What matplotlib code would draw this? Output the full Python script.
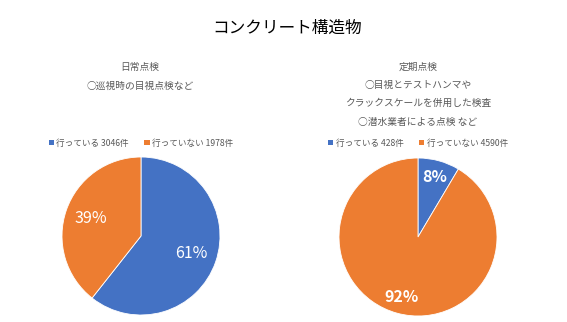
import matplotlib.pyplot as plt
from matplotlib.patches import Patch

plt.rcParams['font.family'] = ['Noto Sans CJK JP', 'DejaVu Sans']

# 件数
labels = ['行っている', '行っていない']
daily_counts = [3046, 1978]
periodic_counts = [428, 4590]
daily_pct = [61, 39]
periodic_pct = [8, 92]
colors = ['#4472C4', '#ED7D31']
gray = '#595959'

W, H = 567, 322
fig = plt.figure(figsize=(W / 100, H / 100), dpi=100)
fig.patch.set_facecolor('white')

def px(x, y):
    return x / W, 1 - y / H

def pie_axes(cx, cy, r):
    return fig.add_axes([(cx - r) / W, 1 - (cy + r) / H, 2 * r / W, 2 * r / H])

fig.text(*px(287, 28), 'コンクリート構造物', ha='center', va='center',
         fontsize=12, color='black')

# 日常点検
for y, s in [(67, '日常点検'), (86, '○巡視時の目視点検など')]:
    fig.text(*px(140, y), s, ha='center', va='center', fontsize=7, color=gray)

# 定期点検
for y, s in [(67, '定期点検'), (85, '○目視とテストハンマや'),
             (103, 'クラックスケールを併用した検査'), (122, '○潜水業者による点検 など')]:
    fig.text(*px(418, y), s, ha='center', va='center', fontsize=7, color=gray)

def draw(cx, cy, counts, pct, pctdist, weight):
    ax = pie_axes(cx, cy, 79)
    wedges, texts = ax.pie(counts, colors=colors, startangle=90, counterclock=False,
                           wedgeprops=dict(edgecolor='white', linewidth=0.6),
                           labels=[f'{p}%' for p in pct], labeldistance=pctdist,
                           textprops=dict(color='white', fontsize=11.5, weight=weight))
    for t in texts:
        t.set_ha('center')
        t.set_va('center')
    ax.set_xlim(-1, 1)
    ax.set_ylim(-1, 1)
    ax.set_aspect('equal')
    handles = [Patch(facecolor=c) for c in colors]
    names = [f'{l} {n}件' for l, n in zip(labels, counts)]
    fig.legend(handles, names, loc='center', bbox_to_anchor=px(cx, 143), ncol=2,
               frameon=False, fontsize=6.2, labelcolor=gray, handlelength=0.6,
               handleheight=0.6, handletextpad=0.3, columnspacing=1.8)

draw(141, 236, daily_counts, daily_pct, 0.67, 'normal')
draw(418, 237, periodic_counts, periodic_pct, 0.79, 'bold')

fig.savefig('out.png', dpi=100)
